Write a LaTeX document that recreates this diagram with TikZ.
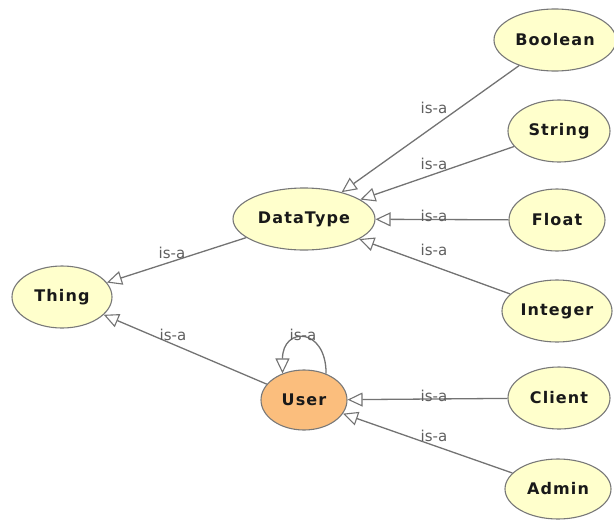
\documentclass[tikz,border=0pt]{standalone}
\usepackage{fontspec}
\setmainfont{DejaVu Sans}
\newfontfamily\nodefont{DejaVu Sans}[LetterSpace=7]
\usetikzlibrary{shapes.geometric,arrows.meta}
\definecolor{nodefill}{RGB}{255,255,204}
\definecolor{userfill}{RGB}{251,190,125}
\definecolor{nodeborder}{RGB}{120,120,120}
\definecolor{edgecol}{RGB}{115,115,115}
\definecolor{labcol}{RGB}{95,95,95}
\tikzset{
  cls/.style={ellipse, draw=nodeborder, line width=1.1pt, fill=nodefill, inner sep=0pt,
    font=\nodefont\fontsize{16}{18}\selectfont\bfseries, text=black!90},
  isa/.style={draw=edgecol, line width=1.3pt,
    -{Triangle[length=15pt,width=14pt,fill=white,line width=1.1pt]}},
  lab/.style={font=\fontsize{15}{16}\selectfont, text=labcol, inner sep=0pt}
}
\begin{document}
\begin{tikzpicture}[x=1pt,y=-1pt]
\useasboundingbox (0,0) rectangle (614,520);
\node[cls, minimum width=100pt, minimum height=62pt] (thing) at (62,297) {Thing};
\node[cls, minimum width=142pt, minimum height=62pt] (datatype) at (304,219) {DataType};
\node[cls, fill=userfill, minimum width=86pt, minimum height=60pt] (user) at (304,400) {User};
\node[cls, minimum width=122pt, minimum height=62pt] (boolean) at (555,40) {Boolean};
\node[cls, minimum width=102pt, minimum height=62pt] (string) at (559,131) {String};
\node[cls, minimum width=96pt, minimum height=62pt] (float) at (557,220) {Float};
\node[cls, minimum width=110pt, minimum height=62pt] (integer) at (557,311) {Integer};
\node[cls, minimum width=102pt, minimum height=62pt] (client) at (559,398) {Client};
\node[cls, minimum width=106pt, minimum height=60pt] (admin) at (558,489) {Admin};

\draw[isa] (datatype) -- (thing);
\draw[isa] (user) -- (thing);
\draw[isa] (boolean) -- (datatype);
\draw[isa] (string) -- (datatype);
\draw[isa] (float) -- (datatype);
\draw[isa] (integer) -- (datatype);
\draw[isa] (client) -- (user);
\draw[isa] (admin) -- (user);
\draw[isa] (user.50) .. controls +(0,-47) and +(0,-47) .. (user.129);

\node[lab] (l1) at (172,253) {is-a};
\node[lab] (l2) at (173,335) {is-a};
\node[lab] (l3) at (303,335) {is-a};
\node[lab] (l4) at (434,108) {is-a};
\node[lab] (l5) at (434,164) {is-a};
\node[lab] (l6) at (434,216) {is-a};
\node[lab] (l7) at (434,250) {is-a};
\node[lab] (l8) at (434,396) {is-a};
\node[lab] (l9) at (434,436) {is-a};
\end{tikzpicture}
\end{document}
